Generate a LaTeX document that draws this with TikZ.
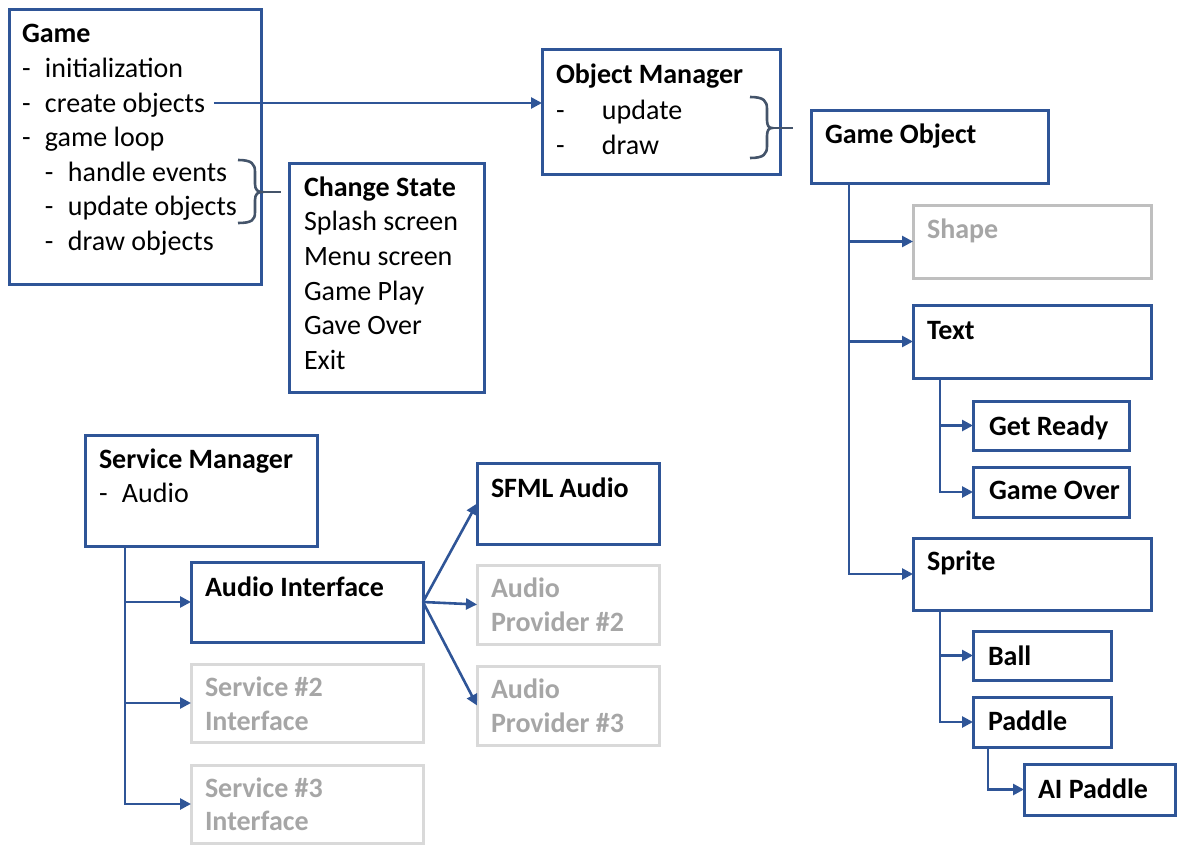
\documentclass[tikz,border=0pt]{standalone}
\usepackage{fontspec}
\setmainfont{Carlito}
\usetikzlibrary{arrows.meta,calc}
\definecolor{bluel}{HTML}{2F5597}
\definecolor{bracec}{HTML}{44546A}
\definecolor{grayb}{HTML}{BFBFBF}
\definecolor{grayc}{HTML}{D9D9D9}
\definecolor{grayt}{HTML}{A6A6A6}
\newcommand\dsh[1]{\makebox[#1][l]{-}}
\begin{document}
\begin{tikzpicture}[x=1pt,y=-1pt,
 box/.style={draw=bluel, line width=3pt, rectangle, inner sep=0pt, outer sep=0pt, anchor=north west},
 gbox/.style={box, draw=grayb},
 g2box/.style={box, draw=grayc},
 txt/.style={anchor=base west, inner sep=0pt, outer sep=0pt, font=\fontsize{28}{34}\selectfont},
 btxt/.style={txt, font=\fontsize{28}{34}\selectfont\bfseries},
 gtxt/.style={btxt, text=grayt},
 arr/.style={draw=bluel, line width=2.6pt, -{Triangle[length=11pt,width=11pt]}},
 conn/.style={draw=bluel, line width=2.6pt},
 brc/.style={draw=bracec, line width=2.6pt},
]
\useasboundingbox (0,0) rectangle (1192,859);

% boxes
\node[box, minimum width=252pt, minimum height=274pt] (game) at (9,10) {};
\node[box, minimum width=238pt, minimum height=124pt] (om) at (542,50) {};
\node[box, minimum width=237pt, minimum height=73pt] (go) at (811,110) {};
\node[box, minimum width=195pt, minimum height=229pt] (cs) at (289,163) {};
\node[gbox, minimum width=238pt, minimum height=73pt] (shape) at (913,205) {};
\node[box, minimum width=238pt, minimum height=73pt] (text) at (913,305) {};
\node[box, minimum width=156pt, minimum height=49pt] (getready) at (973,401) {};
\node[box, minimum width=156pt, minimum height=50pt] (gameover) at (973,467) {};
\node[box, minimum width=238pt, minimum height=72pt] (sprite) at (913,538) {};
\node[box, minimum width=138pt, minimum height=49pt] (ball) at (973,631) {};
\node[box, minimum width=138pt, minimum height=50pt] (paddle) at (973,697) {};
\node[box, minimum width=151pt, minimum height=51pt] (aipaddle) at (1024,764) {};
\node[box, minimum width=232pt, minimum height=111pt] (sm) at (85,435) {};
\node[box, minimum width=232pt, minimum height=80pt] (ai) at (191,562) {};
\node[g2box, minimum width=232pt, minimum height=78pt] (s2) at (191,664) {};
\node[g2box, minimum width=232pt, minimum height=78pt] (s3) at (191,765) {};
\node[box, minimum width=182pt, minimum height=81pt] (sfml) at (477,463) {};
\node[g2box, minimum width=182pt, minimum height=79pt] (p2) at (477,565) {};
\node[g2box, minimum width=182pt, minimum height=79pt] (p3) at (477,666) {};

% texts
\node[btxt] (g0) at (22,43) {Game};
\node[txt] (g1) at (22,77.5) {\dsh{23pt}initialization};
\node[txt] (g2) at (22,112) {\dsh{23pt}create objects};
\node[txt] (g3) at (22,146.5) {\dsh{23pt}game loop};
\node[txt] (g4) at (45,181) {\dsh{23pt}handle events};
\node[txt] (g5) at (45,215.5) {\dsh{23pt}update objects};
\node[txt] (g6) at (45,250) {\dsh{23pt}draw objects};

\node[btxt] (om0) at (556,84) {Object Manager};
\node[txt] (om1) at (556,119) {\dsh{46pt}update};
\node[txt] (om2) at (556,154) {\dsh{46pt}draw};

\node[btxt] (go0) at (825,143) {Game Object};

\node[btxt] (cs0) at (304,196) {Change State};
\node[txt] (cs1) at (304,230.5) {Splash screen};
\node[txt] (cs2) at (304,265) {Menu screen};
\node[txt] (cs3) at (304,300) {Game Play};
\node[txt] (cs4) at (304,334.5) {Gave Over};
\node[txt] (cs5) at (304,369) {Exit};

\node[gtxt] (shape0) at (927,238) {Shape};
\node[btxt] (text0) at (927,339) {Text};
\node[btxt] (getready0) at (989,435) {Get Ready};
\node[btxt] (gameover0) at (989,499) {Game Over};
\node[btxt] (sprite0) at (927,570) {Sprite};
\node[btxt] (ball0) at (988,665) {Ball};
\node[btxt] (paddle0) at (988,730) {Paddle};
\node[btxt] (aipaddle0) at (1038,798) {AI Paddle};

\node[btxt] (sm0) at (99,468) {Service Manager};
\node[txt] (sm1) at (99,502) {\dsh{23pt}Audio};
\node[btxt] (ai0) at (205,596) {Audio Interface};
\node[gtxt] (s20) at (205,696) {Service \#2};
\node[gtxt] (s21) at (205,730) {Interface};
\node[gtxt] (s30) at (205,797) {Service \#3};
\node[gtxt] (s31) at (205,830) {Interface};
\node[btxt] (sfml0) at (491,497) {SFML Audio};
\node[gtxt] (p20) at (491,597) {Audio};
\node[gtxt] (p21) at (491,631) {Provider \#2};
\node[gtxt] (p30) at (491,698) {Audio};
\node[gtxt] (p31) at (491,732) {Provider \#3};

% create objects -> object manager
\coordinate (coa) at ($(g2.base east)+(9,-9)$);
\draw[arr] (coa) -- (coa -| om.west);

% braces
\coordinate (gbtip) at (262,192);
\draw[brc] (238,160) .. controls (252,160) and (255,164) .. (255,172) -- (255,184)
  .. controls (255,190) and (258,192) .. (gbtip)
  .. controls (258,192) and (255,194) .. (255,200) -- (255,212)
  .. controls (255,220) and (252,223) .. (238,223);
\draw[brc] (gbtip) -- ([xshift=-8pt]cs.west |- gbtip);

\coordinate (obtip) at (772,128);
\draw[brc] (750,97) .. controls (764,97) and (767,101) .. (767,109) -- (767,120)
  .. controls (767,126) and (769,128) .. (obtip)
  .. controls (769,128) and (767,130) .. (767,136) -- (767,146)
  .. controls (767,154) and (764,158) .. (750,158);
\draw[brc] (obtip) -- ([xshift=-18pt]go.west |- obtip);

% game object tree
\coordinate (gox) at (849,0);
\draw[arr] (go.south -| gox) |- (sprite.west);
\draw[arr] (gox |- shape.west) -- (shape.west);
\draw[arr] (gox |- text.west) -- (text.west);

\coordinate (tx) at (940,0);
\draw[arr] (text.south -| tx) |- (gameover.west);
\draw[arr] (tx |- getready.west) -- (getready.west);
\draw[arr] (sprite.south -| tx) |- (paddle.west);
\draw[arr] (tx |- ball.west) -- (ball.west);

\coordinate (px) at (988,0);
\draw[arr] (paddle.south -| px) |- (aipaddle.west);

% service manager tree
\coordinate (smx) at (125,0);
\draw[arr] (sm.south -| smx) |- (s3.west);
\draw[arr] (smx |- ai.west) -- (ai.west);
\draw[arr] (smx |- s2.west) -- (s2.west);

\draw[arr] (ai.east) -- (sfml.west);
\draw[arr] (ai.east) -- (p2.west);
\draw[arr] (ai.east) -- (p3.west);
\end{tikzpicture}
\end{document}
